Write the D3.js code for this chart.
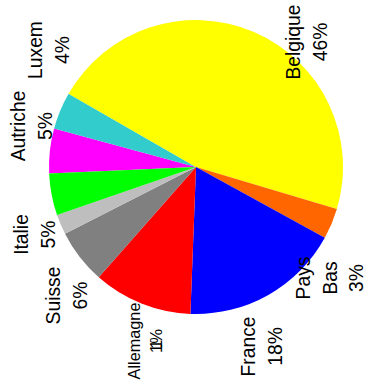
<!DOCTYPE html>
<html>
<head>
<meta charset="utf-8">
<script src="https://cdn.jsdelivr.net/npm/d3@7"></script>
<style>
  html, body { margin: 0; padding: 0; background: #ffffff; }
  svg { display: block; }
</style>
</head>
<body>
<svg id="chart" width="366" height="391"></svg>
<script>
// Slices listed clockwise, starting just below 9 o'clock.
const countries = ["Autriche", "Luxem", "Belgique", "Pays\nBas", "France", "Allemagne", "Suisse", "", "Italie"];
const shares    = [4.9, 4.1, 46.3, 3.4, 17.6, 10.9, 6.0, 2.2, 4.6];
const colors    = ["#ff00ff", "#33cccc", "#ffff00", "#ff6600", "#0000ff", "#ff0000", "#808080", "#bebebe", "#00ff00"];

// Label placement: offset of the first text line (baseline, centre) from the pie centre.
const labelOffsets = [[-171, -41], [-154, -117], [104, -125], [114, 111], [59, 179.5], [-56, 174], [-136, 128.5], [0, 0], [-168, 67.5]];
const labelSizes   = [19.3, 19.3, 19.3, 19.3, 19.3, 16.3, 19.3, 19.3, 19.3];

const width = 366, height = 391;
const cx = 196, cy = 167, radius = 147;
const start = -92.5 * Math.PI / 180;

const data = countries.map((name, i) => ({ name, share: shares[i], color: colors[i], offset: labelOffsets[i], size: labelSizes[i] }));

const pie = d3.pie()
  .sort(null)
  .value(d => d.share)
  .startAngle(start)
  .endAngle(start + 2 * Math.PI);

const arc = d3.arc().innerRadius(0).outerRadius(radius);

const svg = d3.select("#chart");

svg.append("g")
  .attr("transform", `translate(${cx},${cy})`)
  .selectAll("path")
  .data(pie(data))
  .join("path")
  .attr("d", arc)
  .attr("fill", d => d.data.color);

// Vertical labels: name lines followed by the rounded percentage.
const labels = svg.append("g")
  .attr("font-family", "'Liberation Sans', Arial, Helvetica, sans-serif")
  .attr("fill", "#000000");

data.filter(d => d.name !== "").forEach(d => {
  const lines = d.name.split("\n").concat(Math.round(d.share) + "%");
  const gap = d.size * 1.38;
  const g = labels.append("g")
    .attr("transform", `translate(${cx + d.offset[0]},${cy + d.offset[1]}) rotate(-90)`)
    .attr("font-size", d.size);
  lines.forEach((line, i) => {
    const t = g.append("text")
      .attr("x", 0)
      .attr("y", i * gap)
      .attr("text-anchor", "middle")
      .text(line);
    if (d.name === "Allemagne" && i === lines.length - 1) {
      t.attr("textLength", 24).attr("lengthAdjust", "spacing");
    }
  });
});
</script>
</body>
</html>
